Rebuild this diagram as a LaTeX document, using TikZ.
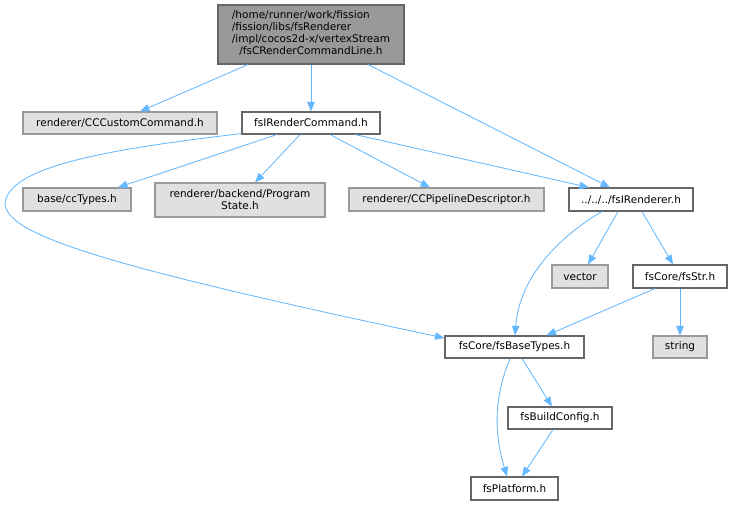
\documentclass[tikz,border=0pt]{standalone}
\usepackage{fontspec}
\setmainfont{DejaVu Sans}
\usetikzlibrary{arrows.meta}
\definecolor{edgeblue}{HTML}{63B8FF}
\definecolor{gborder}{HTML}{999999}
\definecolor{gfill}{HTML}{E0E0E0}
\definecolor{dborder}{HTML}{666666}
\definecolor{topfill}{HTML}{999999}
\begin{document}
\begin{tikzpicture}[x=1pt,y=-1pt,
  basebox/.style={rectangle, inner sep=0pt, line width=1.1pt, align=center,
    font=\fontsize{10.5}{12}\selectfont, text=black},
  gbox/.style={basebox, draw=gborder, fill=gfill},
  wbox/.style={basebox, draw=dborder, fill=white},
  topbox/.style={basebox, draw=dborder, fill=topfill},
  edge/.style={draw=edgeblue, line width=0.85pt, -{Triangle[length=9.5pt,width=7.5pt]}}]
\useasboundingbox (0,0) rectangle (733,505);

\node[topbox, minimum width=186pt, minimum height=59pt] (top) at (311,34.5)
  {\begin{tabular}{@{}l@{}}/home/runner/work/fission\\/fission/libs/fsRenderer\\/impl/cocos2d-x/vertexStream\\\multicolumn{1}{@{}c@{}}{/fsCRenderCommandLine.h}\end{tabular}};
\node[gbox, minimum width=194pt, minimum height=22pt] (cccustom) at (120,123) {renderer/CCCustomCommand.h};
\node[wbox, minimum width=138pt, minimum height=22pt] (fsirc) at (311,123) {fsIRenderCommand.h};
\node[gbox, minimum width=108pt, minimum height=23pt] (cctypes) at (77,199.5) {base/ccTypes.h};
\node[gbox, minimum width=170pt, minimum height=34pt] (progstate) at (240,200) {renderer/backend/Program\\State.h};
\node[gbox, minimum width=195pt, minimum height=23pt] (pipeline) at (446.5,199.5) {renderer/CCPipelineDescriptor.h};
\node[wbox, minimum width=124pt, minimum height=23pt] (fsir) at (631,199.5) {../../../fsIRenderer.h};
\node[gbox, minimum width=56pt, minimum height=23pt] (vector) at (580,276.5) {vector};
\node[wbox, minimum width=94pt, minimum height=23pt] (fsstr) at (680,276.5) {fsCore/fsStr.h};
\node[wbox, minimum width=139pt, minimum height=22pt] (basetypes) at (514.5,347) {fsCore/fsBaseTypes.h};
\node[gbox, minimum width=54pt, minimum height=22pt] (string) at (680,347) {string};
\node[wbox, minimum width=104pt, minimum height=22pt] (buildcfg) at (560,418) {fsBuildConfig.h};
\node[wbox, minimum width=87pt, minimum height=23pt] (platform) at (514.5,488.5) {fsPlatform.h};

\draw[edge] ([xshift=-63pt]top.south) -- ([xshift=20pt]cccustom.north);
\draw[edge] (top.south) -- (fsirc.north);
\draw[edge] ([xshift=57pt]top.south) -- ([xshift=-21pt]fsir.north);
\draw[edge] ([xshift=-34pt]fsirc.south) -- ([xshift=41pt]cctypes.north);
\draw[edge] ([xshift=-11pt]fsirc.south) -- ([xshift=15pt]progstate.north);
\draw[edge] ([xshift=19pt]fsirc.south) -- ([xshift=-16.5pt]pipeline.north);
\draw[edge] ([xshift=44pt]fsirc.south) -- ([xshift=-42pt]fsir.north);
\draw[edge] ([yshift=1pt]fsirc.south west) .. controls (120,148) and (5,165) .. (5,205)
  .. controls (10,235) and (100,265) .. ([yshift=9pt]basetypes.west);
\draw[edge] ([xshift=-29pt]fsir.south) .. controls (570,230) and (520,270) .. ([xshift=0.5pt]basetypes.north);
\draw[edge] ([xshift=-13pt]fsir.south) -- ([xshift=8pt]vector.north);
\draw[edge] ([xshift=11pt]fsir.south) -- ([xshift=-7pt]fsstr.north);
\draw[edge] ([xshift=-25pt]fsstr.south) -- ([xshift=32pt]basetypes.north);
\draw[edge] (fsstr.south) -- (string.north);
\draw[edge] ([xshift=-4.5pt]basetypes.south) .. controls (495,395) and (493,430) .. ([xshift=-7.5pt]platform.north);
\draw[edge] ([xshift=7.5pt]basetypes.south) -- ([xshift=-8pt]buildcfg.north);
\draw[edge] ([xshift=-7pt]buildcfg.south) -- ([xshift=7.5pt]platform.north);
\end{tikzpicture}
\end{document}
